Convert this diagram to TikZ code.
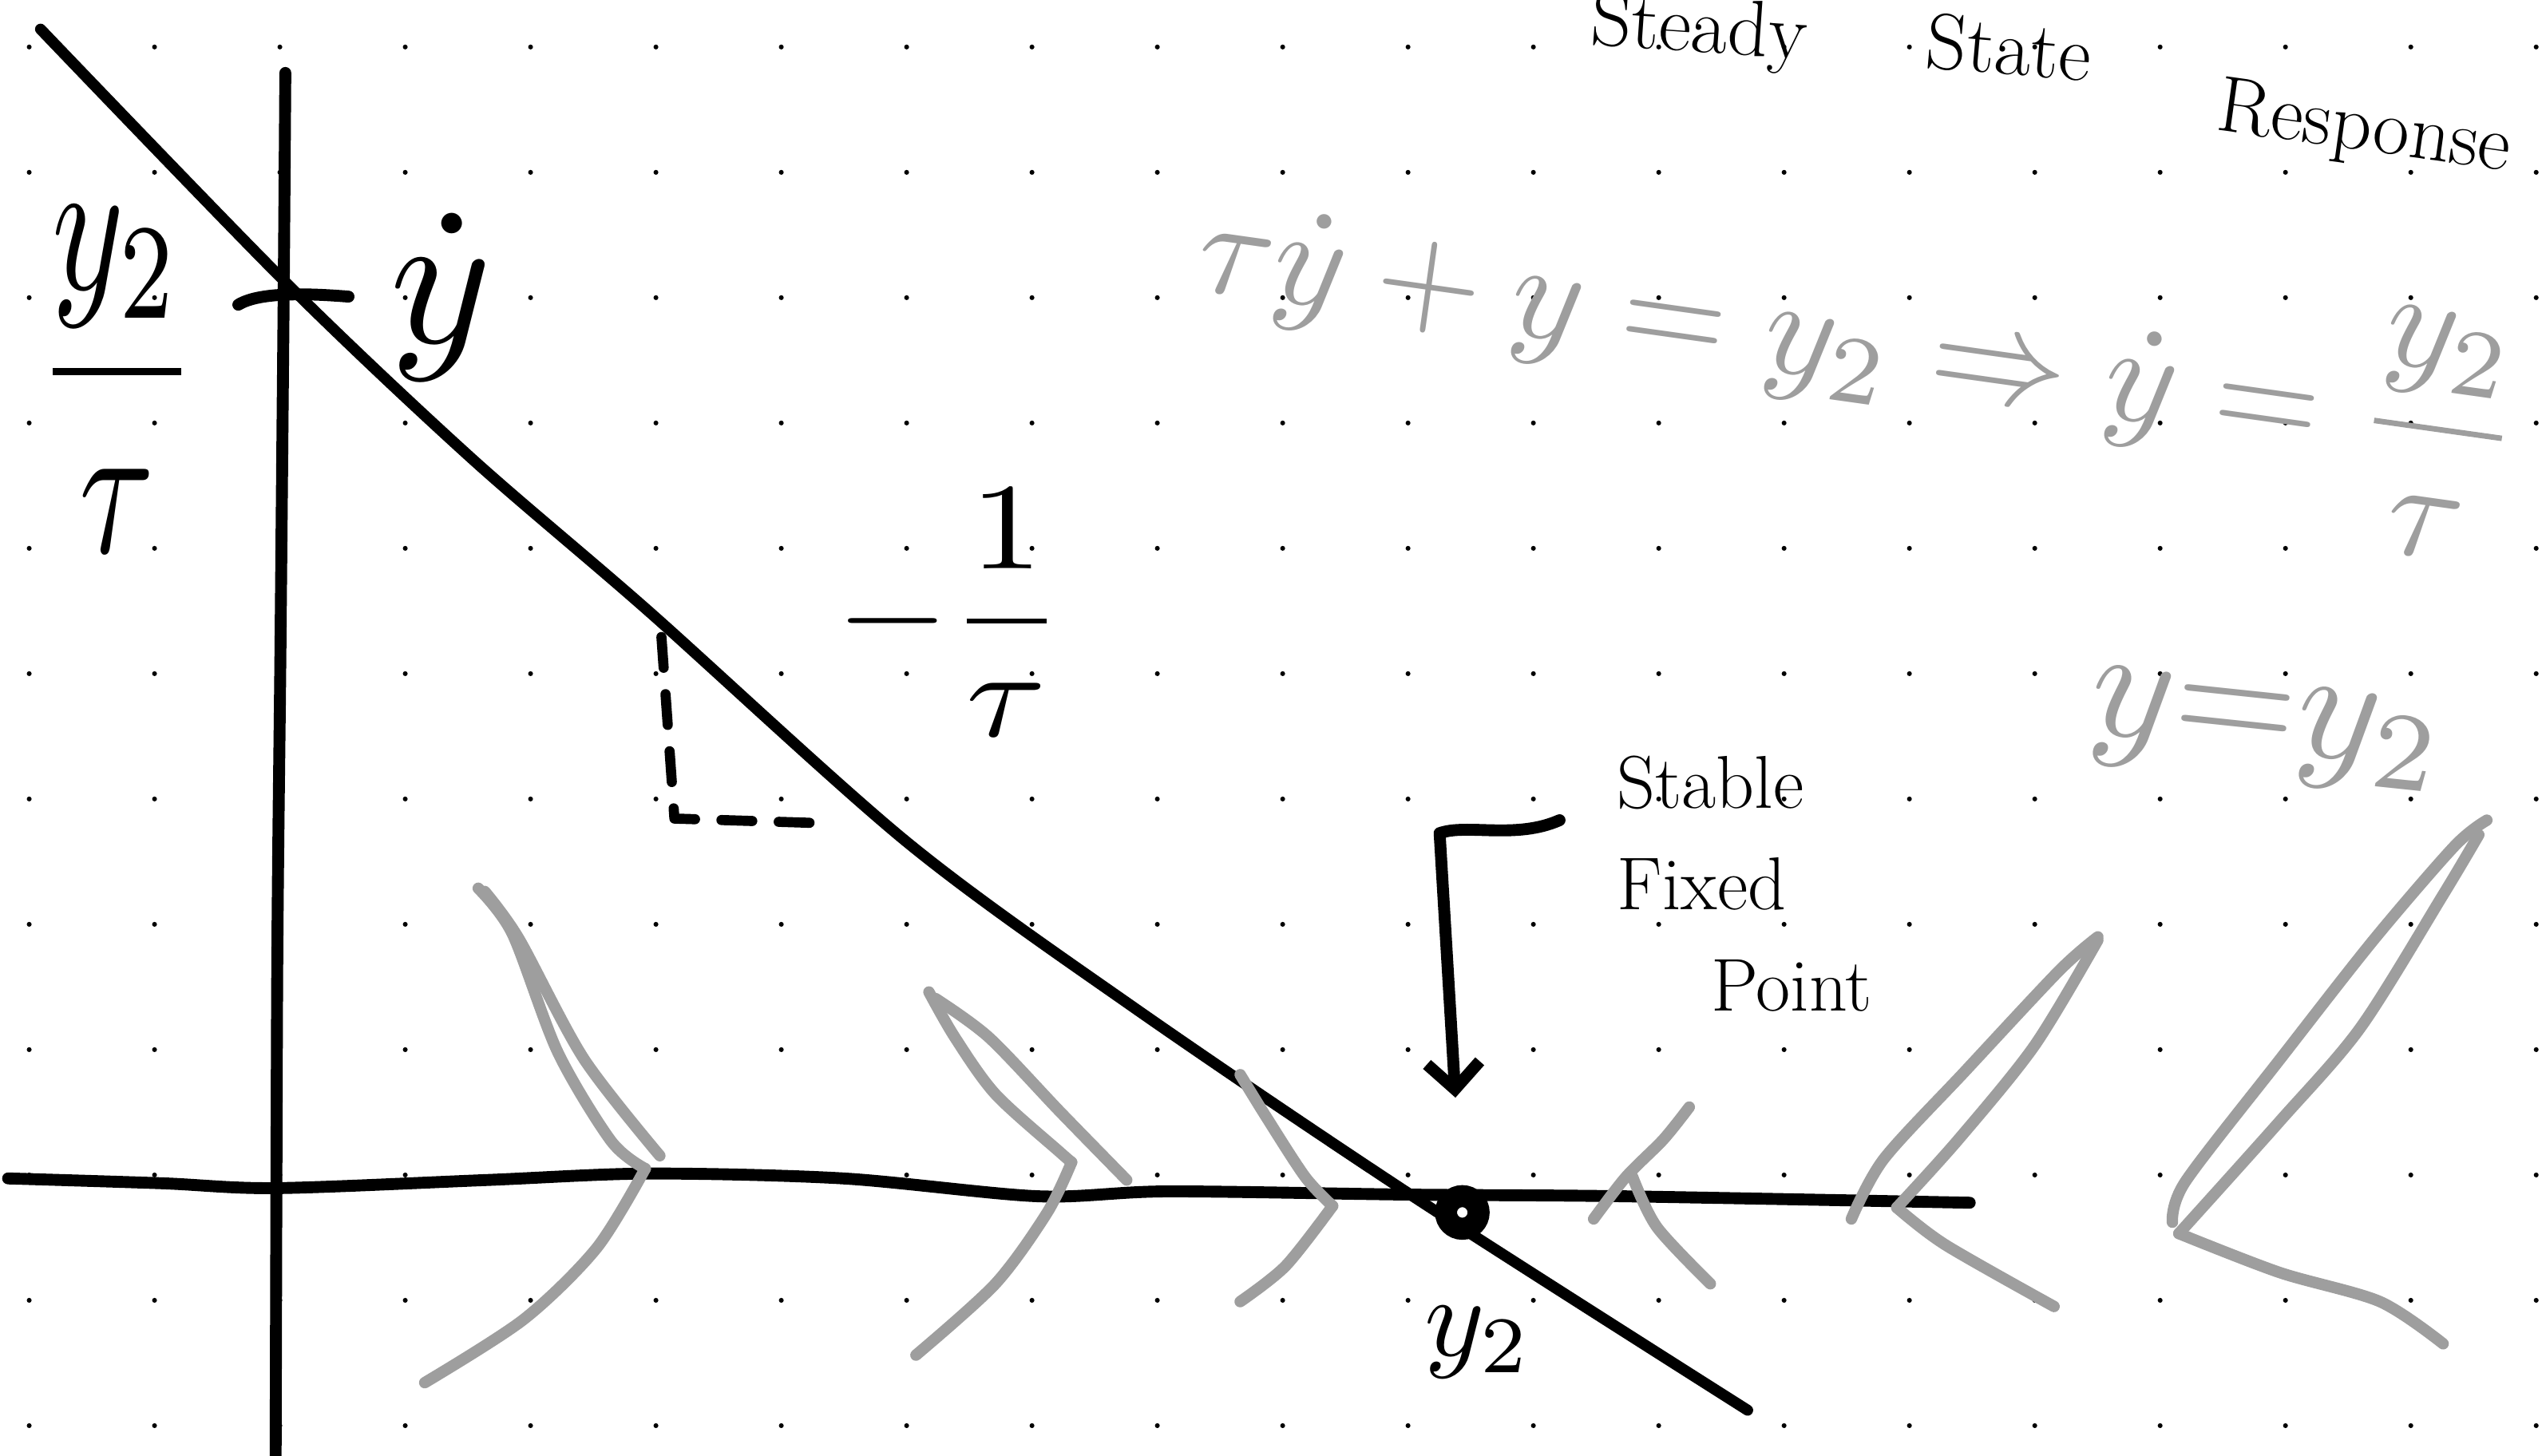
\documentclass[tikz,border=0pt]{standalone}
\usepackage{amsmath}
\usepackage{graphicx}
\usetikzlibrary{arrows.meta}

\definecolor{pencilgray}{gray}{0.62}
\newcommand\handmath[3][]{\scalebox{#2}[\ifx\relax#1\relax#2\else#1\fi]{$\displaystyle #3$}}

\tikzset{
    ink/.style={line width=2.7pt, line cap=round, line join=round},
    chalk/.style={draw=pencilgray, line width=2.6pt, line cap=round, line join=round},
    fixedpt/.style={circle, draw, line width=5pt, minimum size=0.26cm, inner sep=0pt},
    hand/.style={inner sep=0pt},
}

\begin{document}
\begin{tikzpicture}[x=0.12933mm, y=-0.12933mm]
    \useasboundingbox (0,0) rectangle (1568,898);
    \clip (0,0) rectangle (1568,898);

    % dotted paper
    \foreach \i in {0,...,20}
        \foreach \j in {0,...,11}
            \fill ({18+77.32*\i},{29+77.32*\j}) circle (1.5);

    % axes
    \draw[ink] plot[smooth] coordinates {(176,45) (175,180) (173,400) (171,600) (170,910)};
    \draw[ink] plot[smooth] coordinates {(5,727) (100,730) (170,733) (300,728) (400,724) (520,727)
        (640,738) (720,735) (870,737) (1000,738) (1215,742)};
    \draw[ink] (147,188) .. controls (160,180) and (190,181) .. (215,183);

    % flow line
    \draw[ink, line width=2.5pt] plot[smooth] coordinates {(25,18) (176,174) (290,282)
        (400,377) (560,520) (700,622) (870,737) (1078,870)};
    \draw[ink, line width=2.3pt, dash pattern=on 7pt off 6pt] (408,393) -- (416,505) -- (512,508);

    % labels
    \node[hand] (ydot) at (272,183) {\handmath{4.4}{\dot{y}}};
    \node[hand] (icpt) at (72,234) {\handmath[4.4]{3.1}{\frac{y_2}{\tau}}};
    \node[hand] (slope) at (586,378) {\handmath[2.8]{3.3}{-\frac{1}{\tau}}};
    \node[hand] (ytwo) at (912,828) {\handmath{2.6}{y_2}};

    % fixed point
    \node[fixedpt] (fp) at (902,748) {};
    \node[hand, anchor=north west, align=left, font=\fontsize{17}{23}\selectfont] (sfp) at (997,466)
        {Stable\\Fixed\\\hspace*{0.75cm}Point};
    \coordinate (sfptail) at (962,506);
    \draw[ink, -{Straight Barb[length=6pt,width=12pt]}, shorten >=0.7cm]
        (sfptail) .. controls (935,518) and (905,508) .. (888,514) -- (fp);

    % title
    \node[hand, anchor=base, rotate=-4, font=\fontsize{18}{22}\selectfont] (steady) at (1047,32) {Steady};
    \node[hand, anchor=base, rotate=-5, font=\fontsize{18}{22}\selectfont] (state) at (1238,46) {State};
    \node[hand, anchor=base west, rotate=-8, font=\fontsize{18}{22}\selectfont] (resp) at (1366,80) {Response};

    % pencil notes
    \node[hand, text=pencilgray, rotate=-8] (ode) at (1146,218)
        {\handmath{3.12}{\tau\dot{y} + y = y_2 \Rightarrow \dot{y} = \frac{y_2}{\tau}}};
    \node[hand, text=pencilgray, rotate=-6] (fix) at (1398,452)
        {\handmath{3.6}{y{=}y_2}};

    % flow chevrons
    \draw[chalk] plot[smooth] coordinates {(295,548) (316,576) (344,649) (377,704) (398,721)};
    \draw[chalk] plot[smooth] coordinates {(398,721) (368,770) (323,814) (262,853)};
    \draw[chalk] plot[smooth] coordinates {(299,550) (320,579) (360,653) (407,713)};

    \draw[chalk] plot[smooth] coordinates {(573,612) (589,640) (614,675) (654,711) (661,717)};
    \draw[chalk] plot[smooth] coordinates {(661,717) (646,748) (614,792) (565,836)};
    \draw[chalk] plot[smooth] coordinates {(577,616) (610,640) (654,686) (695,728)};

    \draw[chalk] plot[smooth] coordinates {(765,663) (781,689) (805,726) (822,744)};
    \draw[chalk] plot[smooth] coordinates {(822,744) (793,781) (765,803)};

    \draw[chalk] plot[smooth] coordinates {(1042,683) (1026,703) (1003,726) (983,752)};
    \draw[chalk] plot[smooth] coordinates {(1007,726) (1022,757) (1055,792)};

    \draw[chalk] plot[smooth] coordinates {(1294,578) (1270,599) (1212,661) (1162,715) (1142,752)};
    \draw[chalk] plot[smooth] coordinates {(1294,580) (1255,645) (1208,703) (1170,745)};
    \draw[chalk] plot[smooth] coordinates {(1170,745) (1200,768) (1267,806)};

    \draw[chalk] plot[smooth] coordinates {(1534,506) (1514,522) (1464,580) (1406,654) (1348,729) (1340,754)};
    \draw[chalk] plot[smooth] coordinates {(1529,515) (1507,552) (1456,634) (1406,692) (1344,761)};
    \draw[chalk] plot[smooth] coordinates {(1344,761) (1406,785) (1468,803) (1507,829)};
\end{tikzpicture}
\end{document}
